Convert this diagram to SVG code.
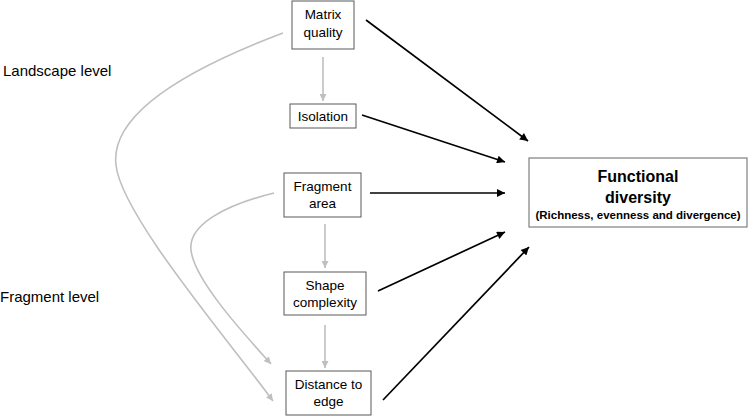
<svg xmlns="http://www.w3.org/2000/svg" width="750" height="416" viewBox="0 0 750 416">
<defs>
<style>
text{font-family:"Liberation Sans",Arial,sans-serif;fill:#000;}
.lbl{font-size:15px;}
.nt{font-size:13.5px;text-anchor:middle;}
.box{fill:#fff;stroke:#595959;stroke-width:1;}
.fbox{fill:#fff;stroke:#7f7f7f;stroke-width:1.2;}
.blk{stroke:#000;stroke-width:1.7;fill:none;marker-end:url(#ab);}
.gry{stroke:#bfbfbf;stroke-width:1.6;fill:none;marker-end:url(#ag);}
</style>
<marker id="ab" viewBox="0 0 10 10" refX="10" refY="5" markerWidth="9" markerHeight="8" markerUnits="userSpaceOnUse" orient="auto"><path d="M0,0 L10,5 L0,10 z" fill="#000"/></marker>
<marker id="ag" viewBox="0 0 10 10" refX="10" refY="5" markerWidth="8" markerHeight="7" markerUnits="userSpaceOnUse" orient="auto"><path d="M0,0 L10,5 L0,10 z" fill="#bfbfbf"/></marker>
</defs>
<text class="lbl" x="3" y="76">Landscape level</text>
<text class="lbl" x="0" y="302">Fragment level</text>
<g id="connectors">
<path class="gry" d="M323,57 L323,101"/>
<path class="gry" d="M325,224 L325,268"/>
<path class="gry" d="M325,325 L325,368"/>
<path class="gry" d="M283,33 C185,70 110,115 116,165 C121,215 230,342 273,401"/>
<path class="gry" d="M274,193 C225,205 188,225 191,250 C194,280 245,335 271,364"/>
<path class="blk" d="M366,20 L528,141"/>
<path class="blk" d="M362,115 L505,162"/>
<path class="blk" d="M370,193 L505,193"/>
<path class="blk" d="M378,291 L505,232"/>
<path class="blk" d="M383,400 L529,247"/>
</g>
<g id="matrix"><rect class="box" x="292" y="1" width="62" height="48"/><text class="nt" x="323" y="19">Matrix</text><text class="nt" x="323" y="37">quality</text></g>
<g id="isolation"><rect class="box" x="290" y="104" width="66" height="24"/><text class="nt" x="323" y="121">Isolation</text></g>
<g id="fragment"><rect class="box" x="284" y="173" width="77" height="44"/><text class="nt" x="322.5" y="191">Fragment</text><text class="nt" x="322.5" y="208">area</text></g>
<g id="shape"><rect class="box" x="284" y="272" width="82" height="43"/><text class="nt" x="325" y="290">Shape</text><text class="nt" x="325" y="307">complexity</text></g>
<g id="distance"><rect class="box" x="286" y="371" width="85" height="44"/><text class="nt" x="328.5" y="389">Distance to</text><text class="nt" x="328.5" y="406">edge</text></g>
<g id="functional"><rect class="fbox" x="529" y="158" width="218" height="69"/><text x="638" y="182" font-size="16" font-weight="bold" text-anchor="middle">Functional</text><text x="638" y="203" font-size="16" font-weight="bold" text-anchor="middle">diversity</text><text x="638" y="219" font-size="11.5" font-weight="bold" text-anchor="middle">(Richness, evenness and divergence)</text></g>
</svg>
